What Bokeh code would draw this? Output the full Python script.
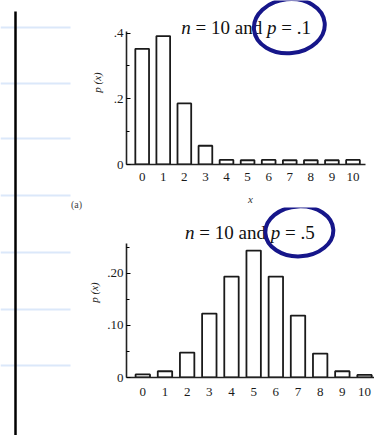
from bokeh.plotting import figure
from bokeh.layouts import row, column
from bokeh.models import Range1d, FixedTicker, ColumnDataSource
from bokeh.core.properties import value
from bokeh.embed import file_html
from bokeh.resources import INLINE

# ---- data ----
x_vals = list(range(11))
x_labels = [str(v) for v in x_vals]
p_a = [0.352, 0.391, 0.186, 0.057, 0.014, 0.013, 0.014, 0.013, 0.013, 0.013, 0.014]
p_b = [0.006, 0.012, 0.048, 0.123, 0.194, 0.244, 0.194, 0.119, 0.046, 0.012, 0.005]
title_a = ["n", "= 10 and", "p", "= .1"]
title_b = ["n", "= 10 and", "p", "= .5"]
title_styles = ["italic", "normal", "italic", "normal"]
yticks_a = [0, 0.2, 0.4]
ylabels_a = ["0", ".2", ".4"]
yminor_a = [0.1, 0.3]
yticks_b = [0, 0.1, 0.2]
ylabels_b = ["0", ".10", ".20"]
yminor_b = [0.05, 0.15, 0.25]

SERIF = "Liberation Serif"
NAVY = "#16168a"
PAPER_BLUE = "#dbe8fa"
TITLE_OFFSETS = [-64.85, -50.6, 20.85, 35.1]


def style_axes(p, yticks, ylabels, yminor, ybounds, ylab_standoff):
    p.xaxis.ticker = FixedTicker(ticks=x_vals)
    p.xaxis.major_label_overrides = {v: l for v, l in zip(x_vals, x_labels)}
    p.xaxis.major_tick_in = 0
    p.xaxis.major_tick_out = 0
    p.xaxis.minor_tick_in = 0
    p.xaxis.minor_tick_out = 0
    p.xaxis.major_label_standoff = 8
    p.xaxis.major_label_text_font = SERIF
    p.xaxis.major_label_text_font_size = "13px"
    p.xaxis.major_label_text_color = "#1a1a1a"
    p.xaxis.axis_line_width = 1.6
    p.xaxis.axis_line_color = "#222222"

    p.yaxis.ticker = FixedTicker(ticks=yticks, minor_ticks=yminor)
    p.yaxis.major_label_overrides = {t: l for t, l in zip(yticks, ylabels)}
    p.yaxis.bounds = ybounds
    p.yaxis.major_tick_in = 4
    p.yaxis.major_tick_out = 0
    p.yaxis.minor_tick_in = 3
    p.yaxis.minor_tick_out = 0
    p.yaxis.major_label_standoff = 3
    p.yaxis.major_label_text_font = SERIF
    p.yaxis.major_label_text_font_size = "13px"
    p.yaxis.major_label_text_color = "#1a1a1a"
    p.yaxis.axis_line_width = 1.6
    p.yaxis.axis_line_color = "#222222"
    p.yaxis.axis_label = "p (x)"
    p.yaxis.axis_label_text_font = SERIF
    p.yaxis.axis_label_text_font_style = "italic"
    p.yaxis.axis_label_text_font_size = "11px"
    p.yaxis.axis_label_standoff = ylab_standoff
    p.yaxis.axis_label_text_color = "#1a1a1a"


def base_fig(w, h, xr, yr, left, bottom):
    p = figure(width=w, height=h, x_range=xr, y_range=yr,
               output_backend="svg", toolbar_location=None,
               min_border_left=left, min_border_right=0,
               min_border_top=0, min_border_bottom=bottom)
    p.outline_line_color = None
    p.xgrid.visible = False
    p.ygrid.visible = False
    p.background_fill_color = "white"
    p.border_fill_color = "white"
    return p


def add_title(p, cx, cy, parts):
    src = ColumnDataSource(dict(x=[cx] * len(parts), y=[cy] * len(parts), text=parts,
                                style=title_styles, off=TITLE_OFFSETS))
    p.text(x="x", y="y", text="text", x_offset="off", text_font_style="style",
           source=src, text_font=value(SERIF), text_font_size="19px",
           text_align="left", text_baseline="middle", text_color="#111111")


# ---- chart (a) ----
p1 = base_fig(289, 207, Range1d(-0.744, 11.02), Range1d(0, 0.4992), 36, 41)
src_a = ColumnDataSource(dict(x=x_vals, top=p_a))
p1.vbar(x="x", top="top", width=0.65, bottom=0, source=src_a,
        fill_color="white", line_color="#1a1a1a", line_width=1.8)
style_axes(p1, yticks_a, ylabels_a, yminor_a, (0, 0.405), 8)
p1.xaxis.bounds = (-0.744, 10.6)
p1.xaxis.axis_label = "x"
p1.xaxis.axis_label_text_font = SERIF
p1.xaxis.axis_label_text_font_style = "italic"
p1.xaxis.axis_label_text_font_size = "11px"
p1.xaxis.axis_label_standoff = 9
p1.xaxis.axis_label_text_color = "#333333"
add_title(p1, 4.93, 0.418, title_a)
p1.ellipse(x=[6.98], y=[0.421], width=71, height=54, width_units="screen",
           height_units="screen", angle=0.1, fill_alpha=0,
           line_color=NAVY, line_width=4)

# ---- chart (b) ----
p2 = base_fig(289, 228, Range1d(-0.735, 10.45), Range1d(0, 0.3269), 38, 58)
src_b = ColumnDataSource(dict(x=x_vals, top=p_b))
p2.vbar(x="x", top="top", width=0.65, bottom=0, source=src_b,
        fill_color="white", line_color="#1a1a1a", line_width=1.8)
style_axes(p2, yticks_b, ylabels_b, yminor_b, (0, 0.258), 4)
p2.xaxis.major_label_standoff = 10
add_title(p2, 4.83, 0.279, title_b)
p2.ellipse(x=[7.06], y=[0.281], width=68, height=50, width_units="screen",
           height_units="screen", angle=0.05, fill_alpha=0,
           line_color=NAVY, line_width=4)

# ---- notebook-paper decoration on the left ----
deco = figure(width=85, height=435, x_range=Range1d(0, 85), y_range=Range1d(435, 0),
              output_backend="svg", toolbar_location=None,
              min_border=0, min_border_left=0, min_border_right=0,
              min_border_top=0, min_border_bottom=0)
deco.axis.visible = False
deco.xgrid.visible = False
deco.ygrid.visible = False
deco.outline_line_color = None
line_ys = [27, 83, 138, 195, 252, 309, 365]
deco.segment(x0=[0] * len(line_ys), x1=[70] * len(line_ys), y0=line_ys, y1=line_ys,
             line_color=PAPER_BLUE, line_width=2)
deco.segment(x0=[15], x1=[15], y0=[11], y1=[440], line_color="black", line_width=2.5)
deco.text(x=[76], y=[204], text=["(a)"], text_font=value(SERIF), text_font_size="10px",
          text_align="center", text_baseline="middle", text_color="#444444")

layout = row(deco, column(p1, p2))
open("out.html", "w").write(file_html(layout, INLINE))
